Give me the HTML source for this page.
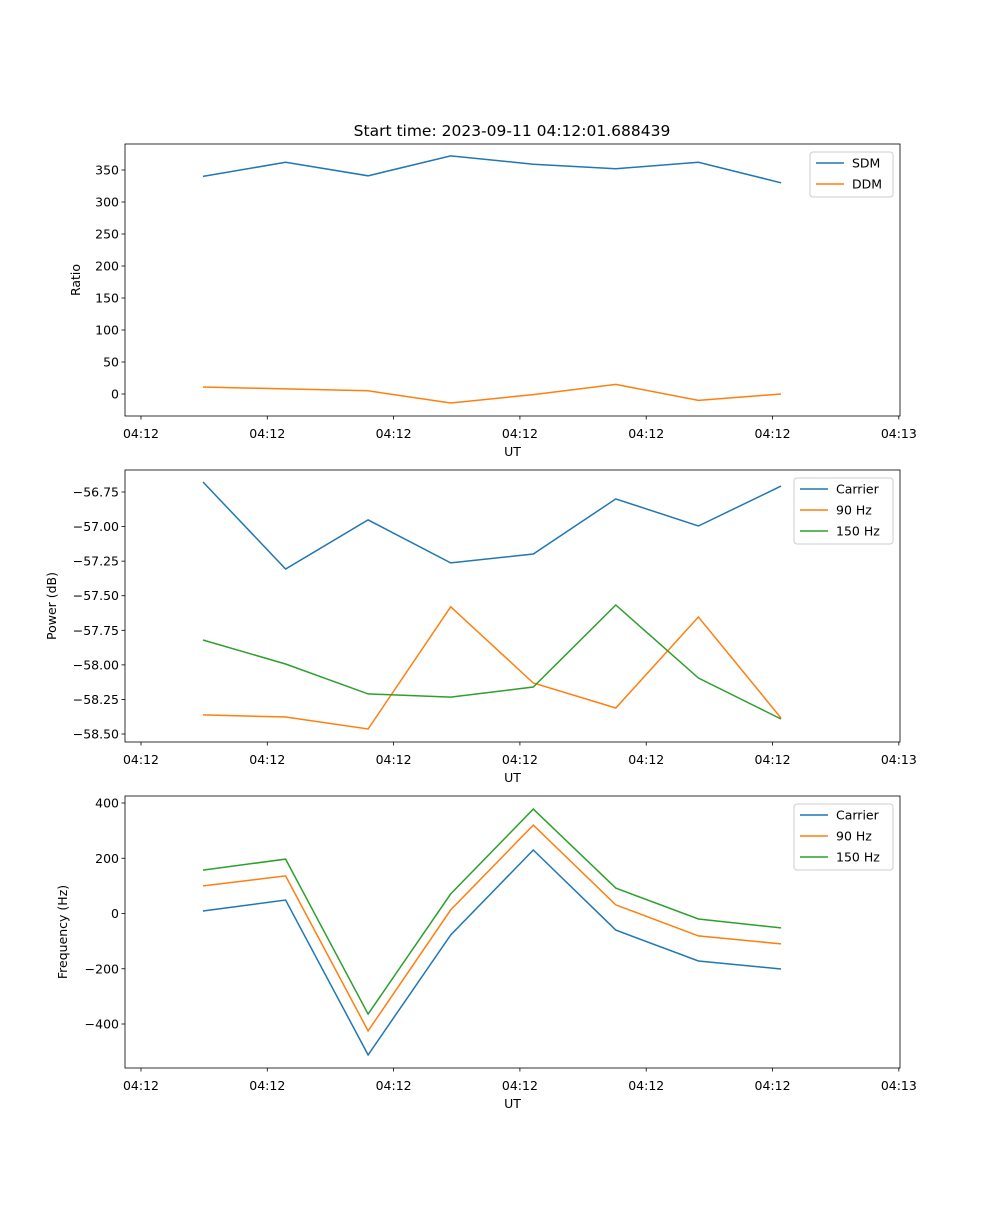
<!DOCTYPE html>
<html><head><meta charset="utf-8"><style>
body{margin:0;background:#fff}
svg{font-family:"DejaVu Sans","Liberation Sans",sans-serif}
</style></head><body>
<svg id="fig" width="1000" height="1200" viewBox="0 0 1000 1200" xmlns="http://www.w3.org/2000/svg">
<rect width="1000" height="1200" fill="#fff"/>
<text x="512" y="136" font-size="15.5" text-anchor="middle">Start time: 2023-09-11 04:12:01.688439</text>
</svg>
<script>
const xTickLabels=["04:12","04:12","04:12","04:12","04:12","04:12","04:13"];
const sdm=[340,362,341,372,359,352,362,330];
const ddm=[11,8,5,-14,-1,15,-10,0];
const powCarrier=[-56.678,-57.307,-56.952,-57.263,-57.198,-56.80,-56.996,-56.707];
const pow90=[-58.362,-58.377,-58.464,-57.58,-58.131,-58.312,-57.654,-58.384];
const pow150=[-57.82,-57.994,-58.21,-58.233,-58.16,-57.567,-58.095,-58.391];
const freqCarrier=[9,49,-512,-78,230,-60,-172,-201];
const freq90=[100,136,-425,13,320,31,-81,-110];
const freq150=[157,197,-364,71,378,92,-20,-52];
const ratioTicks=[0,50,100,150,200,250,300,350];
const powTicks=[-58.5,-58.25,-58.0,-57.75,-57.5,-57.25,-57.0,-56.75];
const powTickLabels=["−58.50","−58.25","−58.00","−57.75","−57.50","−57.25","−57.00","−56.75"];
const freqTicks=[-400,-200,0,200,400];
const freqTickLabels=["−400","−200","0","200","400"];

const NS="http://www.w3.org/2000/svg";
const svg=document.getElementById('fig');
function mk(tag,attrs,parent){const e=document.createElementNS(NS,tag);for(const k in attrs)e.setAttribute(k,attrs[k]);(parent||svg).appendChild(e);return e;}
const L=125,R=900;
const xScale=i=>203+i*82.57;
const xTickIdx=[0,1,2,3,4,5,6].map(k=>-0.751+k*1.5297);
const colors=["#1f77b4","#ff7f0e","#2ca02c"];

function panel(name,top,bot,yScale,yt,ytl,ylabel,series,names,legend){
  const g=mk('g',{});
  
  
  series.forEach((s,si)=>{
    const pts=s.map((v,i)=>xScale(i).toFixed(1)+','+yScale(v).toFixed(1)).join(' ');
    const p=mk('polyline',{points:pts,fill:'none',stroke:colors[si],'stroke-width':1.5},g);
    
    
  });
  const fr=mk('rect',{x:L,y:top,width:R-L,height:bot-top,fill:'none',stroke:'#000','stroke-width':0.8},g);
  
  
  xTickIdx.forEach((ti,k)=>{
    const x=xScale(ti);
    mk('line',{x1:x,x2:x,y1:bot,y2:bot+3.5,stroke:'#000','stroke-width':0.8},g);
    const t=mk('text',{x:x,y:bot+22,'font-size':12.5,'text-anchor':'middle'},g);
    t.textContent=xTickLabels[k];
    
    
  });
  const xl=mk('text',{x:(L+R)/2,y:bot+40,'font-size':12.5,'text-anchor':'middle'},g);
  xl.textContent='UT';
  
  
  yt.forEach((v,k)=>{
    const y=yScale(v);
    mk('line',{x1:L,x2:L-3.5,y1:y,y2:y,stroke:'#000','stroke-width':0.8},g);
    const t=mk('text',{x:L-6,y:y+4.5,'font-size':12.5,'text-anchor':'end'},g);
    t.textContent=ytl[k];
    
    
  });
  const yl=mk('text',{x:0,y:0,'font-size':12.5,'text-anchor':'middle',transform:`translate(${legend.ylx},${(top+bot)/2}) rotate(-90)`},g);
  yl.textContent=ylabel;
  
  
  const lg=mk('g',{},g);
  
  
  mk('rect',{x:legend.x,y:top+8,width:R-7-legend.x,height:names.length*21+3,rx:3,fill:'#fff','fill-opacity':0.8,stroke:'#ccc'},lg);
  names.forEach((n,si)=>{
    const y=top+8+11+si*21;
    mk('line',{x1:legend.x+6,x2:legend.x+34,y1:y,y2:y,stroke:colors[si],'stroke-width':1.5},lg);
    const t=mk('text',{x:legend.x+42,y:y+4.5,'font-size':12.5},lg);
    t.textContent=n;
    
    
  });
}
panel('ratio-panel',144,416,v=>394-0.64*v,ratioTicks,ratioTicks.map(String),'Ratio',[sdm,ddm],['SDM','DDM'],{x:810,ylx:80});
panel('power-panel',470,742,v=>492+(-56.75-v)*138.3,powTicks,powTickLabels,'Power (dB)',[powCarrier,pow90,pow150],['Carrier','90 Hz','150 Hz'],{x:794,ylx:56});
panel('frequency-panel',796,1068,v=>913.5-0.27625*v,freqTicks,freqTickLabels,'Frequency (Hz)',[freqCarrier,freq90,freq150],['Carrier','90 Hz','150 Hz'],{x:794,ylx:67});
</script>
</body></html>
